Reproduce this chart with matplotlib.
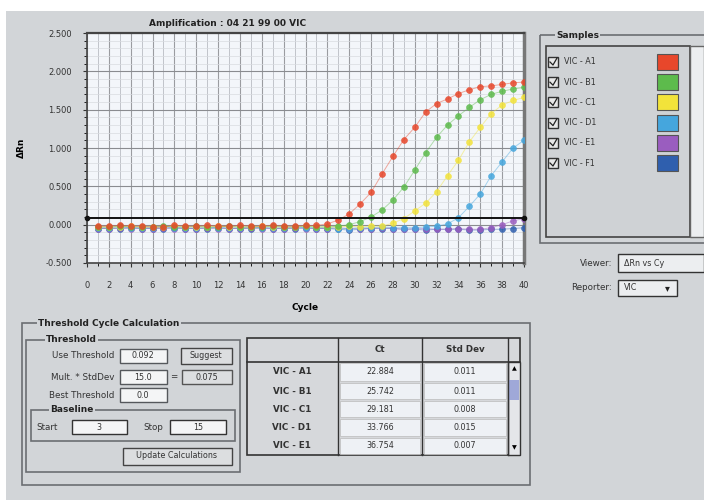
import matplotlib.pyplot as plt
import matplotlib.patches as mpatches
import numpy as np

cycles = np.arange(1, 41)

vic_a1 = [-0.02, -0.02, -0.01, -0.02, -0.02, -0.03, -0.03, -0.01, -0.02, -0.02,
          -0.01, -0.02, -0.02, -0.01, -0.02, -0.02, -0.01, -0.02, -0.02, -0.01,
          -0.01, 0.01, 0.06, 0.14, 0.27, 0.42, 0.66, 0.89, 1.11, 1.27,
          1.47, 1.58, 1.64, 1.71, 1.76, 1.80, 1.81, 1.83, 1.85, 1.86]
vic_b1 = [-0.03, -0.03, -0.02, -0.03, -0.03, -0.03, -0.02, -0.03, -0.03, -0.02,
          -0.03, -0.03, -0.02, -0.03, -0.03, -0.03, -0.02, -0.03, -0.03, -0.02,
          -0.03, -0.03, -0.02, 0.00, 0.04, 0.10, 0.19, 0.32, 0.49, 0.71,
          0.94, 1.14, 1.30, 1.42, 1.53, 1.63, 1.70, 1.74, 1.77, 1.79]
vic_c1 = [-0.03, -0.03, -0.03, -0.02, -0.03, -0.03, -0.03, -0.02, -0.03, -0.03,
          -0.03, -0.02, -0.03, -0.03, -0.03, -0.02, -0.03, -0.03, -0.03, -0.02,
          -0.03, -0.03, -0.03, -0.02, -0.03, -0.02, -0.02, 0.02, 0.08, 0.18,
          0.28, 0.43, 0.64, 0.84, 1.08, 1.27, 1.45, 1.56, 1.62, 1.66]
vic_d1 = [-0.04, -0.04, -0.03, -0.04, -0.04, -0.04, -0.03, -0.04, -0.04, -0.04,
          -0.03, -0.04, -0.04, -0.04, -0.03, -0.04, -0.04, -0.04, -0.03, -0.04,
          -0.04, -0.04, -0.05, -0.05, -0.04, -0.04, -0.03, -0.04, -0.04, -0.04,
          -0.03, -0.02, 0.01, 0.09, 0.24, 0.40, 0.64, 0.82, 1.00, 1.10]
vic_e1 = [-0.05, -0.05, -0.04, -0.05, -0.05, -0.05, -0.04, -0.05, -0.05, -0.05,
          -0.04, -0.05, -0.05, -0.05, -0.04, -0.05, -0.05, -0.05, -0.04, -0.05,
          -0.05, -0.05, -0.04, -0.05, -0.05, -0.05, -0.04, -0.05, -0.06, -0.05,
          -0.05, -0.06, -0.06, -0.05, -0.06, -0.06, -0.04, 0.00, 0.05, 0.08]
vic_f1 = [-0.05, -0.05, -0.05, -0.04, -0.05, -0.05, -0.05, -0.04, -0.05, -0.05,
          -0.05, -0.04, -0.05, -0.05, -0.05, -0.04, -0.05, -0.05, -0.05, -0.04,
          -0.05, -0.05, -0.06, -0.07, -0.06, -0.05, -0.05, -0.05, -0.06, -0.06,
          -0.07, -0.06, -0.06, -0.06, -0.07, -0.07, -0.06, -0.06, -0.05, -0.04]

sample_names = ["VIC - A1", "VIC - B1", "VIC - C1", "VIC - D1", "VIC - E1", "VIC - F1"]
sample_colors = ["#e8472b", "#5dbb4c", "#f2e33a", "#45a6dd", "#9a5dbf", "#2f5fae"]
series = [vic_a1, vic_b1, vic_c1, vic_d1, vic_e1, vic_f1]

threshold = 0.092
y_ticks = [-0.5, 0.0, 0.5, 1.0, 1.5, 2.0, 2.5]
x_ticks = list(range(0, 41, 2))

table_rows = ["VIC - A1", "VIC - B1", "VIC - C1", "VIC - D1", "VIC - E1"]
table_ct = ["22.884", "25.742", "29.181", "33.766", "36.754"]
table_sd = ["0.011", "0.011", "0.008", "0.015", "0.007"]

BG = "#d2d5d8"
EDGE = "#55585c"

fig = plt.figure(figsize=(7.04, 5.0), dpi=100, facecolor="white")

# full-figure layer in pixel coordinates for the window chrome
ui = fig.add_axes([0, 0, 1, 1], zorder=0)
ui.set_xlim(0, 704)
ui.set_ylim(500, 0)
ui.axis("off")


def box(x0, y0, x1, y1, face=BG, edge=EDGE, lw=1.0):
    ui.add_patch(mpatches.Rectangle((x0, y0), x1 - x0, y1 - y0, facecolor=face,
                                    edgecolor=edge, linewidth=lw))


def group(x0, y0, x1, y1, title, tx):
    box(x0, y0, x1, y1, face="none", edge="#6b6e72", lw=1.2)
    ui.text(tx, y0, title, fontsize=6.5, fontweight="bold", va="center",
            ha="left", color="#222", bbox=dict(facecolor=BG, edgecolor="none", pad=1))


def label(x, y, s, ha="left", bold=False, size=6.3):
    ui.text(x, y, s, fontsize=size, ha=ha, va="center", color="#333",
            fontweight="bold" if bold else "normal")


box(6, 11, 704, 500, face=BG, edge="none")
ui.text(228, 23, "Amplification : 04 21 99 00 VIC", fontsize=6.5, fontweight="bold",
        ha="center", va="center", color="#222")

# samples panel
group(540, 35, 712, 243, "Samples", 556)
box(546, 46, 690, 237, face="#cfd2d5", edge="#444", lw=1.2)
box(690, 46, 704, 237, face="#eceef0", edge="#666")
for i, (name, color) in enumerate(zip(sample_names, sample_colors)):
    yc = 62 + i * 20.2
    box(548, yc - 5, 558, yc + 5, face="#e8e8e8", edge="#333", lw=1.0)
    ui.plot([550, 553, 557], [yc, yc + 3, yc - 4], color="#222", lw=0.9)
    label(564, yc, name, size=5.8)
    box(657, yc - 8, 678, yc + 8, face=color, edge="#555", lw=0.8)

label(612, 263, "Viewer:", ha="right")
box(618, 254, 704, 272, face="#eceef0", edge="#333")
label(624, 263, "ΔRn vs Cy", size=5.8)
label(612, 288, "Reporter:", ha="right")
box(618, 280, 677, 296, face="#eceef0", edge="#333")
label(624, 288, "VIC", size=5.8)
ui.text(667, 288, "▾", fontsize=7, ha="center", va="center", color="#222")

# threshold cycle calculation
group(22, 323, 530, 485, "Threshold Cycle Calculation", 38)
group(26, 340, 240, 472, "Threshold", 46)
label(114, 356, "Use Threshold", ha="right")
box(120, 349, 167, 363, face="#f4f5f6")
label(143, 356, "0.092", ha="center", size=5.8)
box(181, 348, 232, 364, face="#dcdee0", edge="#444")
label(206, 356, "Suggest", ha="center", size=5.8)
label(114, 377, "Mult. * StdDev", ha="right")
box(120, 370, 167, 384, face="#f4f5f6")
label(143, 377, "15.0", ha="center", size=5.8)
label(174, 377, "=", ha="center")
box(182, 370, 232, 384, face="#dcdee0", edge="#555")
label(207, 377, "0.075", ha="center", size=5.8)
label(114, 395, "Best Threshold", ha="right")
box(120, 388, 167, 402, face="#f4f5f6")
label(143, 395, "0.0", ha="center", size=5.8)
group(31, 410, 235, 441, "Baseline", 50)
label(36, 427, "Start")
box(72, 420, 127, 434, face="#f4f5f6", edge="#333")
label(99, 427, "3", ha="center", size=5.8)
label(143, 427, "Stop")
box(170, 420, 226, 434, face="#f4f5f6", edge="#333")
label(198, 427, "15", ha="center", size=5.8)
box(123, 448, 232, 465, face="#dcdee0", edge="#444")
label(177, 456, "Update Calculations", ha="center", size=5.8)

# Ct table
box(247, 338, 520, 455, face="#d6d8db", edge="#333", lw=1.2)
col_x = [247, 338, 422, 508, 520]
row_y = [338, 362, 382, 400, 418, 437, 455]
for x in col_x[1:-1]:
    ui.plot([x, x], [338, 455], color="#333", lw=1.0)
ui.plot([247, 520], [362, 362], color="#333", lw=1.2)
label(380, 350, "Ct", ha="center", bold=True)
label(465, 350, "Std Dev", ha="center", bold=True)
for i in range(len(table_rows)):
    y0, y1 = row_y[i + 1], row_y[i + 2]
    box(340, y0 + 1, 420, y1 - 1, face="#eef1f5", edge="#bbb", lw=0.5)
    box(424, y0 + 1, 506, y1 - 1, face="#eef1f5", edge="#bbb", lw=0.5)
    ym = (y0 + y1) / 2
    label(292, ym, table_rows[i], ha="center", bold=True)
    label(380, ym, table_ct[i], ha="center", size=5.8)
    label(465, ym, table_sd[i], ha="center", size=5.8)
box(508, 362, 520, 455, face="#e4e6e9", edge="#333")
box(509, 380, 519, 400, face="#9fa8d8", edge="none")
ui.text(514, 369, "▲", fontsize=4.5, ha="center", va="center")
ui.text(514, 448, "▼", fontsize=4.5, ha="center", va="center")

# amplification plot
ax = fig.add_axes([87 / 704, (500 - 263) / 500, (524 - 87) / 704, (263 - 33) / 500], zorder=2)
ax.set_facecolor("#f3f6fa")
ax.set_xlim(0, 40)
ax.set_ylim(-0.5, 2.5)
ax.set_xticks(x_ticks)
ax.set_xticks(range(0, 41), minor=True)
ax.set_yticks(y_ticks)
ax.set_yticks(np.arange(-0.5, 2.51, 0.1), minor=True)
ax.set_yticklabels([f"{v:.3f}" for v in y_ticks])
ax.grid(which="major", axis="y", color="#8a8c90", lw=0.8)
ax.grid(which="minor", axis="y", color="#d8dbe0", lw=0.5)
ax.grid(which="major", axis="x", color="#9a9ca0", lw=0.8)
ax.grid(which="minor", axis="x", color="#b9bcc2", lw=0.6)
ax.set_axisbelow(True)
ax.tick_params(axis="x", labelsize=6, colors="#333", length=3, width=0.8, pad=10)
ax.tick_params(axis="y", labelsize=6, colors="#333", length=3, width=0.8, pad=8)
ax.tick_params(which="minor", length=2, width=0.6)
for side, width in [("left", 1.2), ("bottom", 1.2), ("top", 1.6), ("right", 2.5)]:
    ax.spines[side].set_linewidth(width)
    ax.spines[side].set_color("#444" if side != "right" else "#777")

for values, color in reversed(list(zip(series, sample_colors))):
    ax.plot(cycles, values, color=color, lw=0.7, alpha=0.45, zorder=3)
    ax.plot(cycles, values, "o", color=color, ms=4.3, mec=color, mew=0.4, alpha=0.85,
            zorder=4, clip_on=True)

ax.plot([0, 40], [threshold, threshold], color="#111", lw=1.4, marker="o", ms=3, zorder=5,
        clip_on=False)

ax.set_xlabel("Cycle", fontsize=6.5, fontweight="bold", labelpad=9)
ax.set_ylabel("ΔRn", fontsize=6.5, fontweight="bold", labelpad=14)

fig.savefig("out.png", dpi=100, facecolor="white")
